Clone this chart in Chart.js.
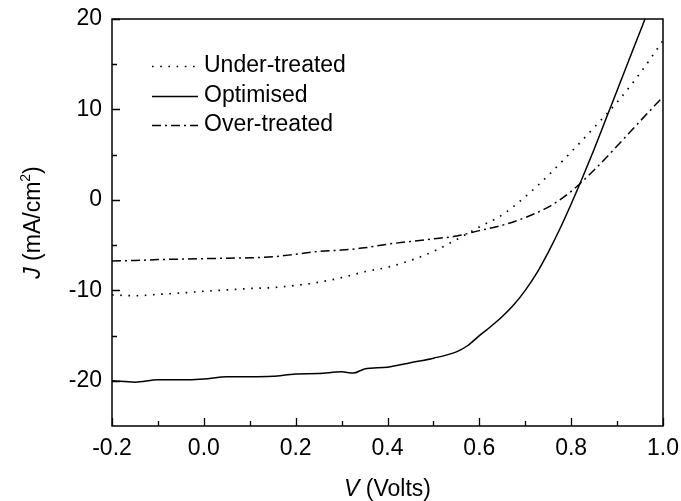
<!DOCTYPE html>
<html>
<head>
<meta charset="utf-8">
<script src="https://cdn.jsdelivr.net/npm/chart.js@4/dist/chart.umd.min.js"></script>
<style>
  html, body { margin: 0; padding: 0; background: #fff; }
  #wrap { width: 681px; height: 501px; position: relative; }
</style>
</head>
<body>
<div id="wrap"><canvas id="jv"></canvas></div>
<script>
// J–V curves (current density in mA/cm², bias in volts)
const seriesNames = ['Under-treated', 'Optimised', 'Over-treated'];

const voltsUnder = [-0.2, -0.15, -0.1, -0.05, 0.0, 0.05, 0.1, 0.15, 0.2, 0.25, 0.3, 0.35, 0.4, 0.45, 0.5, 0.55, 0.6, 0.65, 0.7, 0.75, 0.8, 0.85, 0.9, 0.95, 1.0];
const currentUnder = [-10.5, -10.6, -10.45, -10.3, -10.1, -9.95, -9.8, -9.7, -9.45, -9.1, -8.6, -7.95, -7.45, -6.7, -5.7, -4.4, -3.0, -1.65, 0.35, 2.7, 5.3, 8.0, 10.8, 14.0, 17.6];

const voltsOpt = [-0.2, -0.15, -0.1, -0.05, 0.0, 0.05, 0.1, 0.15, 0.2, 0.25, 0.3, 0.325, 0.35, 0.4, 0.45, 0.5, 0.55, 0.575, 0.6, 0.625, 0.65, 0.675, 0.7, 0.725, 0.75, 0.775, 0.8, 0.825, 0.85, 0.875, 0.9, 0.925, 0.95, 0.975];
const currentOpt = [-20.0, -20.15, -19.9, -19.9, -19.8, -19.55, -19.55, -19.5, -19.25, -19.2, -19.0, -19.15, -18.7, -18.5, -18.0, -17.5, -16.8, -16.1, -15.0, -14.0, -12.9, -11.6, -10.0, -8.1, -5.8, -3.25, -0.45, 2.5, 5.6, 8.85, 12.1, 15.35, 18.6, 21.85];

const voltsOver = [-0.2, -0.15, -0.1, -0.05, 0.0, 0.05, 0.1, 0.15, 0.2, 0.25, 0.3, 0.35, 0.4, 0.45, 0.5, 0.55, 0.6, 0.65, 0.7, 0.75, 0.8, 0.85, 0.9, 0.95, 1.0];
const currentOver = [-6.75, -6.7, -6.6, -6.55, -6.5, -6.45, -6.4, -6.3, -6.0, -5.7, -5.55, -5.3, -4.9, -4.6, -4.3, -4.0, -3.4, -2.8, -1.95, -0.8, 0.95, 3.3, 5.95, 8.7, 11.4];

const xTicks = [-0.2, 0.0, 0.2, 0.4, 0.6, 0.8, 1.0];
const xMinorTicks = [-0.1, 0.1, 0.3, 0.5, 0.7, 0.9];
const yTicks = [-20, -10, 0, 10, 20];
const yMinorTicks = [-15, -5, 5, 15];

const FONT = '"Liberation Sans", Arial, Helvetica, sans-serif';
const FS = 23;
const pts = (xs, ys) => xs.map((v, i) => ({ x: v, y: ys[i] }));

const styles = [
  { borderDash: [1.6, 6.6], borderWidth: 1.7 },
  { borderDash: [], borderWidth: 1.5 },
  { borderDash: [9, 4, 2, 4], borderWidth: 1.5 }
];

// Frame, inward ticks, axis titles and the legend box
const framePlugin = {
  id: 'frame',
  afterDatasetsDraw(chart) {
    const { ctx, chartArea: a, scales: { x, y } } = chart;
    ctx.save();
    ctx.strokeStyle = '#000';
    ctx.lineWidth = 1.5;
    ctx.strokeRect(a.left, a.top, a.right - a.left, a.bottom - a.top);
    ctx.lineWidth = 1.3;
    ctx.beginPath();
    const tickX = (v, len) => { const p = Math.round(x.getPixelForValue(v)) + 0.5; ctx.moveTo(p, a.bottom); ctx.lineTo(p, a.bottom - len); };
    const tickY = (v, len) => { const p = Math.round(y.getPixelForValue(v)) + 0.5; ctx.moveTo(a.left, p); ctx.lineTo(a.left + len, p); };
    xTicks.forEach(v => tickX(v, 8));
    xMinorTicks.forEach(v => tickX(v, 5));
    yTicks.forEach(v => tickY(v, 8));
    yMinorTicks.forEach(v => tickY(v, 5));
    ctx.stroke();

    // legend
    ctx.font = FS + 'px ' + FONT;
    ctx.fillStyle = '#000';
    ctx.textBaseline = 'middle';
    ctx.textAlign = 'left';
    const rows = [66, 96, 125];
    chart.data.datasets.forEach((ds, i) => {
      ctx.save();
      ctx.lineWidth = ds.borderWidth;
      ctx.setLineDash(ds.borderDash || []);
      ctx.beginPath();
      ctx.moveTo(152, rows[i] + 0.5);
      ctx.lineTo(198, rows[i] + 0.5);
      ctx.stroke();
      ctx.restore();
      ctx.fillText(ds.label, 204, rows[i]);
    });

    // x title: italic V, then units
    const cx = (a.left + a.right) / 2;
    ctx.textBaseline = 'alphabetic';
    const vPart = 'V', uPart = ' (Volts)';
    ctx.font = 'italic ' + FS + 'px ' + FONT;
    const wV = ctx.measureText(vPart).width;
    ctx.font = FS + 'px ' + FONT;
    const wU = ctx.measureText(uPart).width;
    const sx = cx - (wV + wU) / 2;
    ctx.font = 'italic ' + FS + 'px ' + FONT;
    ctx.fillText(vPart, sx, 496);
    ctx.font = FS + 'px ' + FONT;
    ctx.fillText(uPart, sx + wV, 496);

    // y title, rotated: italic J, units with superscript 2
    const cy = (a.top + a.bottom) / 2;
    ctx.save();
    ctx.translate(40, cy);
    ctx.rotate(-Math.PI / 2);
    const jPart = 'J', mPart = ' (mA/cm', sup = '2', close = ')';
    ctx.font = 'italic ' + FS + 'px ' + FONT;
    const wJ = ctx.measureText(jPart).width;
    ctx.font = FS + 'px ' + FONT;
    const wM = ctx.measureText(mPart).width;
    const wC = ctx.measureText(close).width;
    ctx.font = '14px ' + FONT;
    const wS = ctx.measureText(sup).width;
    let tx = -(wJ + wM + wS + wC) / 2;
    ctx.font = 'italic ' + FS + 'px ' + FONT;
    ctx.fillText(jPart, tx, 0); tx += wJ;
    ctx.font = FS + 'px ' + FONT;
    ctx.fillText(mPart, tx, 0); tx += wM;
    ctx.font = '14px ' + FONT;
    ctx.fillText(sup, tx, -10); tx += wS;
    ctx.font = FS + 'px ' + FONT;
    ctx.fillText(close, tx, 0);
    ctx.restore();

    ctx.restore();
  }
};

new Chart(document.getElementById('jv'), {
  type: 'line',
  data: {
    datasets: [
      { label: seriesNames[0], data: pts(voltsUnder, currentUnder) },
      { label: seriesNames[1], data: pts(voltsOpt, currentOpt) },
      { label: seriesNames[2], data: pts(voltsOver, currentOver) }
    ].map((d, i) => Object.assign(d, {
      borderColor: '#000',
      borderWidth: styles[i].borderWidth,
      borderDash: styles[i].borderDash,
      pointRadius: 0,
      cubicInterpolationMode: 'monotone',
      fill: false
    }))
  },
  options: {
    responsive: true,
    maintainAspectRatio: false,
    animation: false,
    layout: { padding: { top: 19, right: 18, bottom: 0, left: 0 } },
    plugins: { legend: { display: false }, tooltip: { enabled: false } },
    scales: {
      x: {
        type: 'linear',
        min: -0.2, max: 1.0,
        afterBuildTicks: s => { s.ticks = xTicks.map(v => ({ value: v })); },
        afterFit: s => { s.height = 75; s.paddingLeft = 0; s.paddingRight = 0; },
        grid: { display: false, drawTicks: false },
        border: { display: false },
        ticks: {
          color: '#000', padding: 9, maxRotation: 0,
          font: { family: FONT, size: FS },
          callback: v => v.toFixed(1)
        }
      },
      y: {
        type: 'linear',
        min: -25, max: 20,
        afterBuildTicks: s => { s.ticks = yTicks.map(v => ({ value: v })); },
        afterFit: s => { s.width = 112; s.paddingTop = 0; s.paddingBottom = 0; },
        grid: { display: false, drawTicks: false },
        border: { display: false },
        ticks: {
          color: '#000', padding: 10,
          font: { family: FONT, size: FS },
          callback: v => String(v)
        }
      }
    }
  },
  plugins: [framePlugin]
});
</script>
</body>
</html>
